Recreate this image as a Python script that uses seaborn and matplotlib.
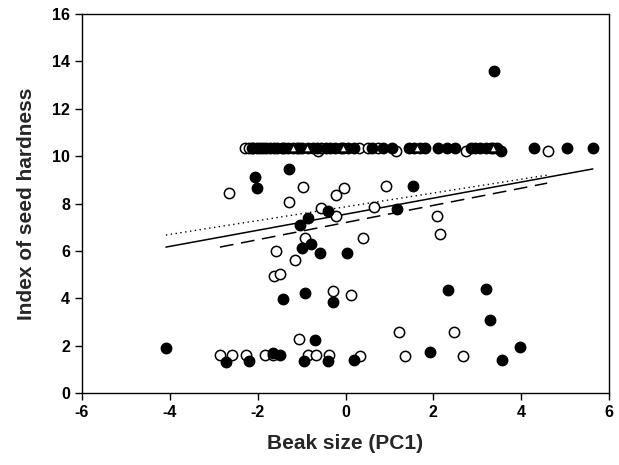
import numpy as np
import pandas as pd
import seaborn as sns
import matplotlib.pyplot as plt

# open circles
open_x = [-2.30, -2.20, -2.13, -1.62, -1.40, -1.05, -0.62, -0.55, -0.05, 0.30, 0.50, 0.75, 1.15, 2.75, 3.35, 4.60,
          -2.65, -0.97, -1.29, -0.56, -0.22, -0.22, -0.03, 0.92, 0.65, 2.08, 2.15, 0.40, -0.92, -1.58, -1.15,
          -1.63, -1.49, -0.29, 0.12,
          -2.86, -2.58, -2.27, -1.83, -1.65, -1.06, -0.85, -0.67, -0.38, 0.33, 1.22, 1.35, 2.47, 2.67]
open_y = [10.35, 10.35, 10.35, 10.35, 10.35, 10.35, 10.20, 10.35, 10.35, 10.35, 10.35, 10.35, 10.20, 10.20, 10.35, 10.20,
          8.44, 8.70, 8.06, 7.81, 7.47, 8.36, 8.65, 8.74, 7.85, 7.47, 6.71, 6.54, 6.54, 5.99, 5.61,
          4.94, 5.02, 4.31, 4.14,
          1.60, 1.60, 1.60, 1.60, 1.60, 2.28, 1.60, 1.60, 1.60, 1.56, 2.57, 1.56, 2.57, 1.56]

# filled circles
filled_x = [-2.10, -2.02, -1.95, -1.88, -1.80, -1.72, -1.55, -1.45, -1.30, -1.20, -1.10, -1.00, -0.85, -0.75,
            -0.65, -0.45, -0.35, -0.25, -0.10, 0.05, 0.20, 0.60, 0.85, 1.05, 1.45, 1.55, 1.70, 1.80, 2.10,
            2.30, 2.50, 2.85, 2.95, 3.05, 3.20, 3.30, 3.45, 3.55, 4.30, 5.05, 5.63,
            3.38, -2.06, -2.02, -1.29, -0.40, -0.85, -1.04, -0.99, -0.79, -0.58, 1.54, 1.17, 0.03,
            -1.42, -0.92, -0.29, 2.33, 3.20, 3.29,
            -4.09, -2.72, -2.20, -1.65, -1.49, -0.70, -0.95, -0.40, 0.19, 1.92, 3.56, 3.97]
filled_y = [10.35] * 37 + [10.20, 10.35, 10.35, 10.35,
            13.59, 9.12, 8.65, 9.46, 7.68, 7.39, 7.09, 6.12, 6.29, 5.91, 8.74, 7.77, 5.91,
            3.97, 4.22, 3.84, 4.35, 4.39, 3.10,
            1.90, 1.31, 1.35, 1.69, 1.60, 2.24, 1.35, 1.35, 1.39, 1.73, 1.39, 1.94]

# open triangles
tri_x = [-1.20, -0.88, -0.06, 1.63, 3.36]
tri_y = [10.35, 10.35, 10.35, 10.35, 10.35]

# fitted lines (end points)
solid_x = [-4.09, 5.63]
solid_y = [6.16, 9.46]
dotted_x = [-4.09, 4.60]
dotted_y = [6.67, 9.20]
dashed_x = [-2.86, 4.59]
dashed_y = [6.16, 8.86]

sns.set_style('white')
plt.rcParams['font.family'] = ['Liberation Sans', 'DejaVu Sans']
plt.rcParams['axes.unicode_minus'] = False

fig = plt.figure(figsize=(6.19, 4.65), dpi=100)
ax = fig.add_axes([0.1325, 0.1548, 0.8515, 0.8151])

sns.scatterplot(x=open_x, y=open_y, ax=ax, s=55, marker='o', facecolor='white',
                edgecolor='black', linewidth=1.1, zorder=3)
sns.scatterplot(x=filled_x, y=filled_y, ax=ax, s=55, marker='o', color='black',
                edgecolor='black', linewidth=1.1, zorder=4)
sns.scatterplot(x=tri_x, y=tri_y, ax=ax, s=22, marker='^', facecolor='white',
                edgecolor='black', linewidth=0.6, zorder=5)

ax.plot(solid_x, solid_y, color='black', lw=1.1, zorder=2)
ax.plot(dotted_x, dotted_y, color='black', lw=1.0, linestyle=(0, (1, 2.5)), zorder=2)
ax.plot(dashed_x, dashed_y, color='black', lw=1.1, linestyle=(0, (9, 5)), zorder=2)

ax.set_xlim(-6, 6)
ax.set_ylim(0, 16)
ax.set_xticks(np.arange(-6, 7, 2))
ax.set_yticks(np.arange(0, 17, 2))
ax.tick_params(axis='both', which='major', direction='out', length=5, width=1,
               left=True, bottom=True, labelsize=11.5, colors='black')
for lab in ax.get_xticklabels() + ax.get_yticklabels():
    lab.set_fontweight('bold')
for sp in ax.spines.values():
    sp.set_color('black')
    sp.set_linewidth(1)

ax.set_xlabel('Beak size (PC1)', fontsize=15, fontweight='bold', labelpad=10)
ax.set_ylabel('Index of seed hardness', fontsize=15, fontweight='bold', labelpad=12)

plt.savefig('out.png', dpi=100)
